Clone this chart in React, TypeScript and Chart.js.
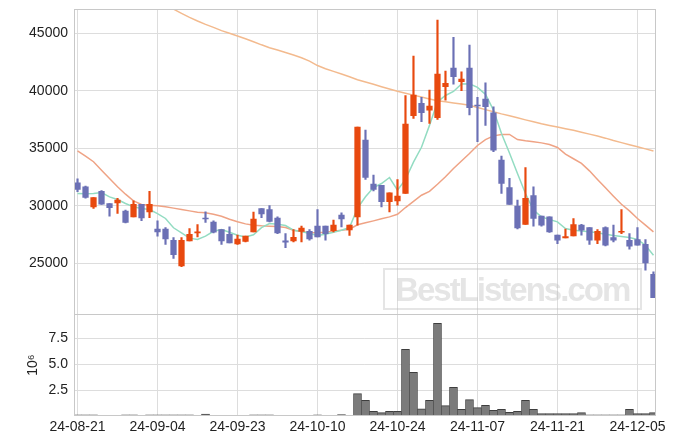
import React, { useEffect, useRef } from 'react';
import { Chart, registerables } from 'chart.js';

Chart.register(...registerables);

const dates = [
  '24-08-21', '24-08-22', '24-08-23', '24-08-26', '24-08-27', '24-08-28', '24-08-29', '24-08-30',
  '24-09-02', '24-09-03', '24-09-04', '24-09-05', '24-09-06', '24-09-09', '24-09-10', '24-09-11',
  '24-09-12', '24-09-13', '24-09-19', '24-09-20', '24-09-23', '24-09-24', '24-09-25', '24-09-26',
  '24-09-27', '24-09-30', '24-10-02', '24-10-04', '24-10-07', '24-10-08', '24-10-10', '24-10-11',
  '24-10-14', '24-10-15', '24-10-16', '24-10-17', '24-10-18', '24-10-21', '24-10-22', '24-10-23',
  '24-10-24', '24-10-25', '24-10-28', '24-10-29', '24-10-30', '24-10-31', '24-11-01', '24-11-04',
  '24-11-05', '24-11-06', '24-11-07', '24-11-08', '24-11-11', '24-11-12', '24-11-13', '24-11-14',
  '24-11-15', '24-11-18', '24-11-19', '24-11-20', '24-11-21', '24-11-22', '24-11-25', '24-11-26',
  '24-11-27', '24-11-28', '24-11-29', '24-12-02', '24-12-03', '24-12-04', '24-12-05', '24-12-06',
  '24-12-09',
];

const opens = [
  32010, 31660, 29920, 31260, 30210, 30270, 29545, 29050, 30150, 29490,
  27980, 27980, 27020, 24790, 26960, 27660, 28940, 28590, 27950, 27540,
  26700, 26910, 27750, 29780, 29690, 28940, 26960, 26960, 27780, 27800,
  28240, 28240, 27860, 29200, 27920, 29050, 35720, 31890, 31780, 30360,
  30440, 31080, 37840, 38910, 38330, 37660, 40360, 41980, 40790, 41980,
  38760, 39290, 38100, 33980, 31600, 29980, 28390, 30910, 29110, 29050,
  27460, 27220, 27400, 28330, 28120, 27020, 28120, 27250, 27720, 27020,
  27080, 26670, 24060,
];
const highs = [
  32360, 31720, 30730, 31340, 30210, 30650, 29630, 30440, 30150, 31260,
  28700, 28120, 27250, 27250, 28040, 28390, 29490, 28700, 27950, 28180,
  27460, 27370, 29460, 29780, 30040, 29050, 27600, 27950, 28240, 27950,
  29690, 28240, 28760, 29400, 28330, 36850, 36590, 32680, 31780, 31140,
  32300, 39580, 43030, 39430, 40070, 46160, 41720, 44650, 41660, 43980,
  39430, 40700, 38620, 34330, 32390, 30500, 33340, 31660, 29110, 29050,
  27460, 27980, 28910, 28410, 28120, 27950, 28180, 28330, 29690, 27600,
  28120, 27080, 24270,
];
const lows = [
  31230, 30680, 29780, 30125, 29110, 29340, 28530, 29050, 28730, 28990,
  27370, 26650, 25430, 24730, 26960, 27310, 28560, 27660, 26650, 26790,
  26650, 26880, 27750, 28990, 28620, 27600, 26380, 26880, 26880, 27020,
  27310, 27020, 27750, 28180, 27430, 28330, 32300, 31310, 29920, 29490,
  30070, 31080, 37600, 37320, 37170, 37520, 39200, 40590, 40010, 37900,
  35580, 37000, 34710, 31080, 30125, 28010, 28390, 28240, 28240, 27690,
  26730, 27220, 27400, 27460, 26650, 26730, 26530, 26880, 27600, 26240,
  26590, 24410, 22030,
];
const closes = [
  31430, 30730, 30730, 30150, 29860, 30500, 28560, 30150, 28965, 30150,
  27750, 27140, 25775, 27020, 27540, 27750, 28880, 27720, 26960, 26790,
  27110, 27370, 28850, 29310, 28650, 27660, 26850, 27280, 28070, 27140,
  27310, 27600, 28330, 28880, 28330, 36850, 32474, 31430, 30360, 31140,
  30850, 37110, 39630, 38100, 38680, 41460, 40650, 41230, 41030, 38530,
  38700, 38620, 34850, 31950, 30125, 28100, 30650, 28910, 28330, 27750,
  27020, 27340, 28385, 27890, 27020, 27800, 26590, 27020, 27800, 26500,
  26590, 25050, 22030,
];

const ma5 = [
  31080, 31050, 31080, 31170, 30790, 30560, 30210, 29920, 29780, 29690,
  29340, 28910, 28100, 27660, 27200, 27080, 27370, 27800, 27950, 27720,
  27460, 27310, 27490, 28120, 28470, 28410, 28300, 27890, 27780, 27600,
  27430, 27540, 27720, 27890, 28120, 29800, 30800, 31600, 31950, 32470,
  31370, 32300, 33800, 35100, 37000, 39050, 39600, 39950, 40600, 40620,
  40300, 39700, 38330, 36300, 34600, 32820, 31080, 29630, 29050, 28820,
  28620, 28040, 27890, 27830, 27750, 27660, 27540, 27430, 27340, 27250,
  27080, 26590, 25720,
];
const ma20 = [
  34790, 34330, 33840, 33110, 32390, 31660, 31020, 30440, 30125, 30070,
  30010, 29920, 29810, 29690, 29570, 29460, 29400, 29280, 29110, 28850,
  28620, 28440, 28330, 28270, 28240, 28210, 28120, 27890, 27780, 27660,
  27660, 27720, 27800, 27890, 27980, 28360, 28530, 28700, 28880, 29050,
  29280, 29860, 30400, 30930, 31270, 31880, 32530, 33250, 33900, 34560,
  35250, 35760, 36090, 36210, 36210, 35770, 35660, 35570, 35480, 35340,
  35080, 34500, 34100, 33690, 33050, 32300, 31580, 30850, 30150, 29570,
  28910, 28330, 27750,
];
const ma120 = [
  null, null, null, null, null, null, null, null, null, null,
  null, null, 47100, 46740, 46390, 46070, 45780, 45520, 45230, 45000,
  44760, 44530, 44270, 44000, 43750, 43550, 43340, 43110, 42880, 42590,
  42200, 41920, 41690, 41460, 41230, 40970, 40770, 40570, 40360, 40160,
  39960, 39800, 39630, 39460, 39300, 39150, 39050, 38950, 38850, 38740,
  38560, 38370, 38190, 38000, 37830, 37660, 37480, 37310, 37140, 36990,
  36850, 36710, 36570, 36410, 36240, 36070, 35890, 35680, 35500, 35320,
  35140, 34960, 34780,
];

const volumes = [
  100000, 100000, 100000, 10000, 10000, 10000, 100000, 100000, 10000, 100000,
  100000, 100000, 100000, 100000, 100000, 10000, 180000, 10000, 10000, 10000,
  10000, 10000, 100000, 100000, 100000, 10000, 10000, 10000, 10000, 10000,
  100000, 10000, 10000, 120000, 10000, 2150000, 1500000, 440000, 310000, 440000,
  440000, 6440000, 4220000, 690000, 1500000, 8960000, 990000, 2760000, 630000, 1570000,
  790000, 1020000, 530000, 630000, 340000, 440000, 1500000, 630000, 210000, 210000,
  210000, 210000, 210000, 310000, 100000, 100000, 100000, 100000, 100000, 630000,
  210000, 210000, 310000,
];

const dateTickIndexes = [0, 10, 20, 30, 40, 50, 60, 70];
const priceTicks = [25000, 30000, 35000, 40000, 45000];
const volumeTicks = [2500000, 5000000, 7500000];

const UP = '#E8490F';
const DOWN = '#6B70B5';
const FONT = "'Liberation Sans', Arial, sans-serif";
const GRID = '#dddddd';

export default function App() {
  const ref = useRef<HTMLCanvasElement>(null);

  useEffect(() => {
    if (!ref.current) return;
    const idx = dates.map((_, i) => i);
    const colors = idx.map((i) => (closes[i] >= opens[i] ? UP : DOWN));
    const tickFont = { family: FONT, size: 14 };

    const framePlugin = {
      id: 'frame',
      afterDatasetsDraw(chart: any) {
        const { ctx, chartArea: a } = chart;
        const yv = chart.scales.yv;
        ctx.save();
        ctx.strokeStyle = '#c8c8c8';
        ctx.lineWidth = 1;
        const l = Math.round(a.left) + 0.5;
        const r = Math.round(a.right) - 0.5;
        const t = Math.round(a.top) + 0.5;
        const b = Math.round(a.bottom) - 0.5;
        ctx.strokeRect(l, t, r - l, b - t);
        const s = Math.round(yv.top) + 0.5;
        ctx.beginPath();
        ctx.moveTo(l, s);
        ctx.lineTo(r, s);
        ctx.stroke();
        ctx.restore();
      },
    };

    const fitY = (s: any) => {
      s.width = 66;
      s.paddingTop = 0;
      s.paddingBottom = 0;
    };

    const lineDs = (values: (number | null)[], color: string, order: number) => ({
      type: 'line' as const,
      data: values.map((v, i) => ({ x: i, y: v })),
      borderColor: color,
      borderWidth: 1.5,
      pointRadius: 0,
      tension: 0,
      spanGaps: false,
      yAxisID: 'y',
      order,
    });

    const chart = new Chart(ref.current, {
      type: 'bar',
      data: {
        datasets: [
          {
            type: 'bar',
            data: idx.map((i) => ({ x: i, y: [opens[i], closes[i]] })),
            backgroundColor: colors,
            barThickness: 5.6,
            grouped: false,
            yAxisID: 'y',
            order: 0,
          } as any,
          {
            type: 'bar',
            data: idx.map((i) => ({ x: i, y: [lows[i], highs[i]] })),
            backgroundColor: colors,
            barThickness: 1.5,
            grouped: false,
            yAxisID: 'y',
            order: 1,
          } as any,
          lineDs(ma5, '#93DCC2', 2),
          lineDs(ma20, '#EFA385', 3),
          lineDs(ma120, '#F3BA8E', 4),
          {
            type: 'bar',
            data: volumes.map((v, i) => ({ x: i, y: v })),
            backgroundColor: '#7b7b7b',
            borderColor: '#3e3e3e',
            borderWidth: { top: 1, left: 0.6, right: 0.6, bottom: 0 },
            barThickness: 8,
            grouped: false,
            yAxisID: 'yv',
            order: 5,
          } as any,
        ],
      },
      options: {
        animation: false,
        responsive: true,
        maintainAspectRatio: false,
        events: [],
        layout: { padding: { top: 1.3, right: 11.3, left: 0, bottom: 0 } },
        plugins: { legend: { display: false }, tooltip: { enabled: false } },
        scales: {
          x: {
            type: 'linear',
            min: -0.44,
            max: 72.28,
            offset: false,
            afterBuildTicks: (s: any) => {
              s.ticks = dateTickIndexes.map((v) => ({ value: v }));
            },
            afterFit: (s: any) => {
              s.height = 20.15;
              s.paddingLeft = 0;
              s.paddingRight = 0;
            },
            ticks: {
              autoSkip: false,
              maxRotation: 0,
              padding: 3,
              color: '#222',
              font: tickFont,
              callback: (v: any) => dates[v as number] ?? '',
            },
            grid: { color: GRID, drawTicks: false, offset: false },
            border: { display: false },
          },
          yv: {
            type: 'linear',
            position: 'left',
            stack: 'panels',
            stackWeight: 1,
            min: 0,
            max: 9850000,
            afterBuildTicks: (s: any) => {
              s.ticks = volumeTicks.map((v) => ({ value: v }));
            },
            afterFit: fitY,
            ticks: {
              padding: 6,
              color: '#222',
              font: tickFont,
              callback: (v: any) => ((v as number) / 1e6).toFixed(1),
            },
            title: {
              display: true,
              text: '10⁶',
              color: '#222',
              font: tickFont,
              padding: { top: 17, bottom: 0 },
            },
            grid: { color: GRID, drawTicks: false },
            border: { display: false },
          },
          y: {
            type: 'linear',
            position: 'left',
            stack: 'panels',
            stackWeight: 3,
            min: 20591,
            max: 47087,
            afterBuildTicks: (s: any) => {
              s.ticks = priceTicks.map((v) => ({ value: v }));
            },
            afterFit: fitY,
            ticks: {
              padding: 6,
              color: '#222',
              font: tickFont,
              callback: (v: any) => String(v),
            },
            grid: { color: GRID, drawTicks: false },
            border: { display: false },
          },
        },
      } as any,
      plugins: [framePlugin],
    });

    return () => chart.destroy();
  }, []);

  return (
    <div style={{ position: 'relative', width: 659, height: 428 }}>
      <canvas ref={ref} />
      <div
        style={{
          position: 'absolute',
          left: 374.7,
          top: 259.7,
          width: 259,
          height: 42.3,
          boxSizing: 'border-box',
          border: '2.5px solid rgba(190,190,190,0.4)',
          color: 'rgba(190,190,190,0.4)',
          fontFamily: FONT,
          fontWeight: 'bold',
          fontSize: 33,
          letterSpacing: -2,
          lineHeight: '37.3px',
          textAlign: 'center',
          paddingTop: 1,
          pointerEvents: 'none',
          whiteSpace: 'nowrap',
        }}
      >
        BestListens.com
      </div>
    </div>
  );
}
